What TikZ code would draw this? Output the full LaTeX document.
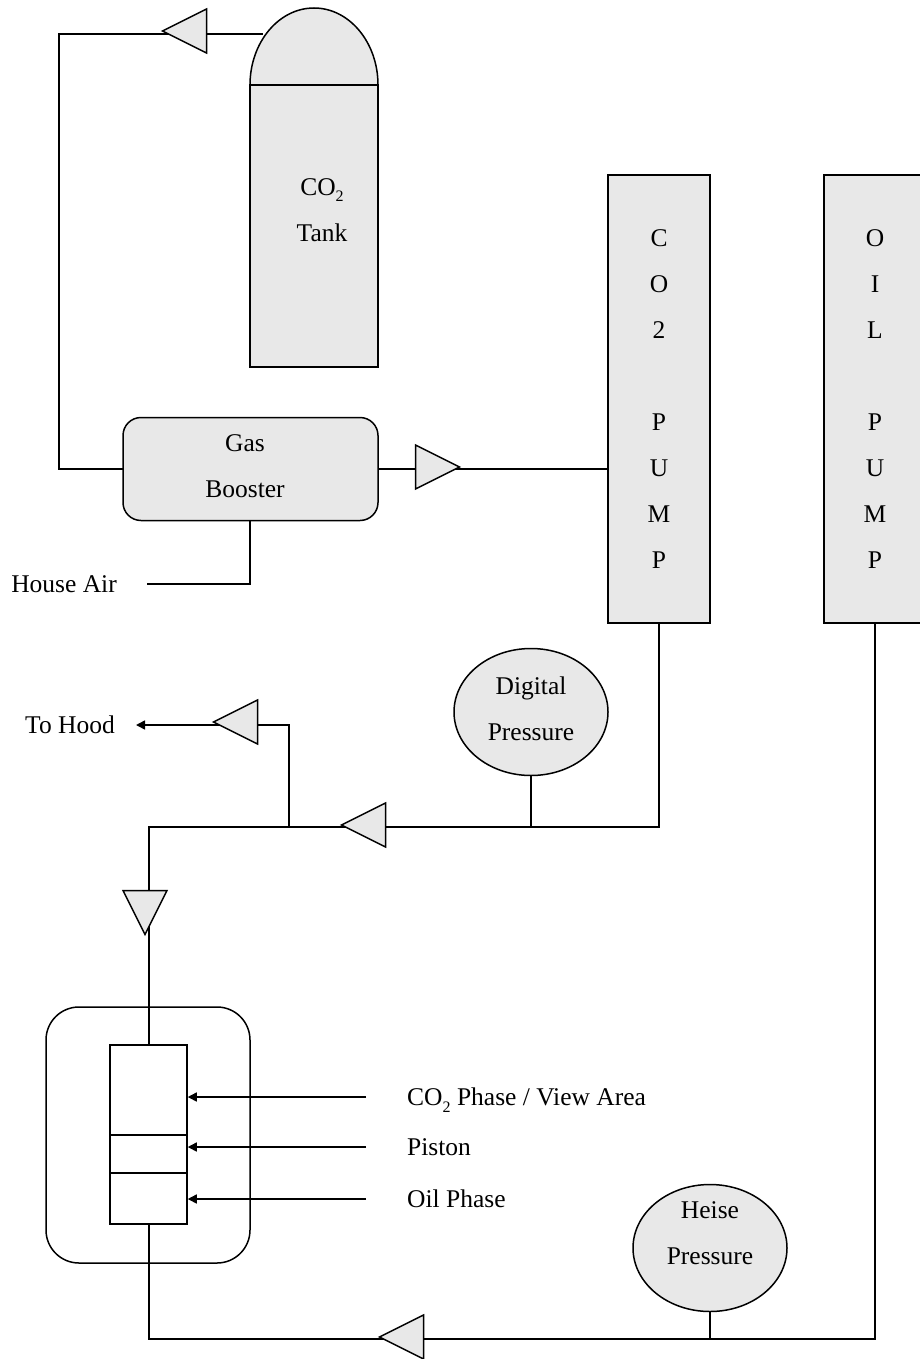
\documentclass[tikz,border=0pt]{standalone}
\usepackage{fontspec}
\setmainfont{Liberation Serif}
\usetikzlibrary{shapes.geometric, arrows.meta}
\definecolor{partgray}{HTML}{E8E8E8}
\newcommand{\subtwo}{\raisebox{-0.26em}{\fontsize{16}{16}\selectfont 2}}
\tikzstyle{pipe} = [line width=1.5pt, line join=miter]
\tikzstyle{arrow} = [pipe, -{Triangle[length=9pt,width=9pt]}]
\tikzstyle{partlabel} = [align=center, inner sep=0pt, font=\fontsize{25.5}{46}\selectfont]
\tikzstyle{part} = [partlabel, rectangle, draw=black, line width=1.5pt, fill=partgray, outer sep=0pt]
\tikzstyle{pumpbox} = [part, minimum width=102pt, minimum height=448pt]
\tikzstyle{gauge} = [part, ellipse, minimum width=154pt, minimum height=127pt]
\tikzstyle{valve} = [isosceles triangle, isosceles triangle stretches, draw=black, line width=1.5pt, fill=partgray, inner sep=0pt, outer sep=0pt, minimum height=44pt, minimum width=44pt]
\tikzstyle{caption} = [font=\fontsize{25.5}{30}\selectfont, inner ysep=0pt, text height=23pt, text depth=6pt]
\begin{document}
\begin{tikzpicture}[x=1pt, y=-1pt]
\useasboundingbox (0,0) rectangle (919,1359);

% tank
\node (tank) [part, minimum width=128pt, minimum height=282pt] at (314,226) {};
\draw [part] (tank.north west) arc [start angle=180, end angle=0, x radius=64pt, y radius=77pt];
\draw [pipe] (tank.north west) -- (tank.north east);
\node (tanklabel) [partlabel] at (322,210) {CO\subtwo\\Tank};
\coordinate (tankout) at (263,34);

% booster and pumps
\node (booster) [part, rounded corners=18pt, minimum width=255pt, minimum height=103pt] at (250.5,469) {};
\node (boosterlabel) [partlabel] at (245,466) {Gas\\Booster};
\node (co2pump) [pumpbox] at (659,399) {C\\O\\2\\ \\P\\U\\M\\P};
\node (oilpump) [pumpbox] at (875,399) {O\\I\\L\\ \\P\\U\\M\\P};
\node (digital) [gauge] at (531,712) {};
\node (digitallabel) [partlabel] at (531,709) {Digital\\Pressure};
\node (heise) [gauge] at (710,1248) {};
\node (heiselabel) [partlabel] at (710,1233) {Heise\\Pressure};

% cell
\node (cell) [draw=black, line width=1.5pt, rounded corners=33pt, minimum width=204pt, minimum height=256pt] at (148,1135) {};
\node (cylinder) [draw=black, line width=1.5pt, minimum width=77pt, minimum height=179pt] at (148.5,1134.5) {};
\node (piston) [draw=black, line width=1.5pt, minimum width=77pt, minimum height=38pt] at (148.5,1154) {};

% captions
\node (houseair) [caption, inner xsep=30pt, anchor=east] at (147,584) {House Air};
\node (tohood) [caption, inner xsep=21pt, anchor=east] at (136,725) {To Hood};
\node (viewlabel) [caption, inner xsep=41pt, anchor=west] at (366,1097) {CO\subtwo{} Phase / View Area};
\node (pistonlabel) [caption, inner xsep=41pt, anchor=west] at (366,1147) {Piston};
\node (oillabel) [caption, inner xsep=41pt, anchor=west] at (366,1199) {Oil Phase};

% connectors
\coordinate (tankcorner) at (59,34);
\coordinate (aircorner) at (250,584);
\coordinate (cellcorner) at (149,827);
\coordinate (co2tee) at (531,827);
\coordinate (hoodtee) at (289,827);
\coordinate (hoodthru) at (225,725);
\coordinate (oiltee) at (710,1339);
\coordinate (oilcorner) at (149,1339);
\draw [pipe] (tankout) -- (tankcorner) |- (booster.west);
\draw [pipe] (booster.east) -- (booster.east -| co2pump.west);
\draw [pipe] (houseair.east) -- (aircorner) -- (aircorner |- booster.south);
\draw [pipe] (co2pump.south) |- (cellcorner) -- (cellcorner |- cylinder.north);
\draw [pipe] (digital.south) -- (co2tee);
\draw [pipe] (hoodtee) |- (hoodthru);
\draw [arrow] (hoodthru) -- (tohood.east);
\draw [pipe] (oilpump.south) |- (oilcorner) -- (oilcorner |- cylinder.south);
\draw [pipe] (heise.south) -- (oiltee);
\draw [arrow] (viewlabel.west) -- (viewlabel.west -| cylinder.east);
\draw [arrow] (pistonlabel.west) -- (pistonlabel.west -| cylinder.east);
\draw [arrow] (oillabel.west) -- (oillabel.west -| cylinder.east);

% valves
\node (tankvalve) [valve, shape border rotate=180, anchor=apex] at (162.5,31) {};
\node (boostvalve) [valve, anchor=apex] at (459.5,467) {};
\node (co2valve) [valve, shape border rotate=180, anchor=apex] at (341.5,825) {};
\node (hoodvalve) [valve, shape border rotate=180, anchor=apex] at (213.5,722) {};
\node (cellvalve) [valve, shape border rotate=270, anchor=apex] at (145,934.5) {};
\node (oilvalve) [valve, shape border rotate=180, anchor=apex] at (379.5,1337) {};
\end{tikzpicture}
\end{document}
